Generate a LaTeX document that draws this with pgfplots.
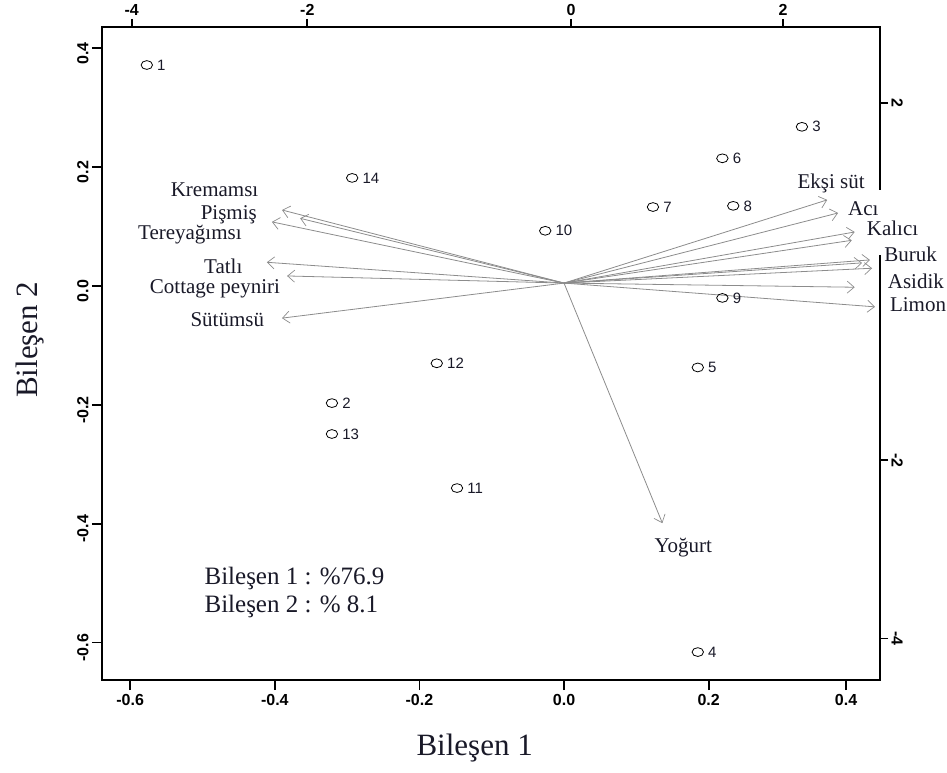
\documentclass[border=0pt]{standalone}
\usepackage{pgfplots}
\pgfplotsset{compat=1.18}
\usepackage{fontspec}
\setmainfont{Liberation Serif}
\newfontfamily\arial{Liberation Sans}
\usetikzlibrary{arrows.meta}
\definecolor{arr}{RGB}{140,140,140}
\definecolor{txt}{RGB}{25,25,40}
\pgfplotstableread{
x y u v
0 0.005 -0.390 0.123
0 0.005 -0.404 0.103
0 0.005 -0.365 0.109
0 0.005 -0.411 0.035
0 0.005 -0.383 0.012
0 0.005 -0.390 -0.059
0 0.005 0.364 0.140
0 0.005 0.379 0.118
0 0.005 0.402 0.086
0 0.005 0.398 0.072
0 0.005 0.423 0.039
0 0.005 0.412 0.034
0 0.005 0.426 0.025
0 0.005 0.402 -0.007
0 0.005 0.430 -0.040
0 0.005 0.136 -0.404
}\loadings
\pgfplotstableread{
x y lab
-0.577 0.372 1
0.329 0.268 3
0.219 0.215 6
-0.293 0.182 14
0.123 0.133 7
0.234 0.135 8
-0.026 0.093 10
0.219 -0.020 9
0.185 -0.137 5
-0.176 -0.130 12
-0.321 -0.197 2
-0.321 -0.249 13
-0.148 -0.340 11
0.185 -0.616 4
}\scores
\begin{document}
\begin{tikzpicture}[x=1pt,y=1pt]
\pgfplotsset{
  bp/.style={
    at={(102pt,93pt)}, anchor=south west, scale only axis,
    width=778pt, height=653pt,
    xmin=-0.639, xmax=0.437, ymin=-0.663, ymax=0.436,
    axis line style={line width=2pt},
    major tick length=10pt,
    tick align=outside,
    every tick/.style={black, line width=1.8pt},
    tick label style={font=\arial\bfseries\fontsize{16}{18}\selectfont},
  }
}
\begin{axis}[bp,
  xtick pos=bottom, ytick pos=left,
  xtick={-0.6,-0.4,-0.2,0,0.2,0.39},
  xticklabels={-0.6,-0.4,-0.2,0.0,0.2,0.4},
  ytick={-0.6,-0.4,-0.2,0,0.2,0.4},
  yticklabels={-0.6,-0.4,-0.2,0.0,0.2,0.4},
  yticklabel style={rotate=90, anchor=south, xshift=-5pt},
  xticklabel style={yshift=-1pt},
  xlabel={Bileşen 1}, ylabel={Bileşen 2},
  xlabel style={at={(axis description cs:0.479,-0.104)}, anchor=center, font=\fontsize{31}{34}\selectfont, color=txt},
  ylabel style={at={(axis description cs:-0.0925,0.521)}, anchor=center, rotate=0, font=\fontsize{31}{34}\selectfont, color=txt},
]
\end{axis}
\begin{axis}[bp, clip=false,
  axis x line*=top, axis y line*=right,
  xtick={-0.598,-0.355,0.0097,0.303},
  xticklabels={-4,-2,0,2},
  ytick={0.308,-0.293,-0.593},
  yticklabels={2,-2,-4},
  major tick length=8pt,
  yticklabel style={rotate=-90, anchor=south, xshift=0pt},
]
\addplot[quiver={u=\thisrow{u},v=\thisrow{v}}, arr, line width=0.8pt,
  -{Straight Barb[length=7pt,width=12pt,line width=0.7pt]}] table[x=x,y=y] {\loadings};
\addplot[only marks, mark=o, mark size=4.4pt, mark options={xscale=1.3, line width=0.8pt, black},
  nodes near coords, point meta=explicit symbolic,
  every node near coord/.append style={anchor=west, inner sep=0pt, xshift=10pt, yshift=0pt, font=\arial\fontsize{15}{17}\selectfont, color=txt}]
  table[x=x,y=y,meta=lab] {\scores};
\fill[white] (axis cs:0.432,0.162) rectangle (axis cs:0.445,0.052);
\begin{scope}[font=\fontsize{21}{24}\selectfont, color=txt]
\node[anchor=east] at (axis cs:-0.418,0.162) {Kremamsı};
\node[anchor=east] at (axis cs:-0.420,0.120) {Pişmiş};
\node[anchor=east] at (axis cs:-0.441,0.086) {Tereyağımsı};
\node[anchor=east] at (axis cs:-0.440,0.034) {Tatlı};
\node[anchor=east] at (axis cs:-0.388,-0.005) {Cottage peyniri};
\node[anchor=east] at (axis cs:-0.410,-0.057) {Sütümsü};
\node[anchor=west] at (axis cs:0.318,0.173) {Ekşi süt};
\node[anchor=west] at (axis cs:0.388,0.130) {Acı};
\node[anchor=west] at (axis cs:0.414,0.098) {Kalıcı};
\node[anchor=west] at (axis cs:0.438,0.054) {Buruk};
\node[anchor=west] at (axis cs:0.443,0.008) {Asidik};
\node[anchor=west] at (axis cs:0.446,-0.032) {Limon};
\node[anchor=center] at (axis cs:0.165,-0.441) {Yoğurt};
\end{scope}
\begin{scope}[font=\fontsize{25}{29}\selectfont, color=txt]
\node[anchor=west] at (axis cs:-0.502,-0.492) {Bileşen 1 : \%76.9};
\node[anchor=west] at (axis cs:-0.502,-0.539) {Bileşen 2 : \% 8.1};
\end{scope}
\end{axis}
\pgfresetboundingbox
\path (0,0) rectangle (947,773);
\end{tikzpicture}
\end{document}
